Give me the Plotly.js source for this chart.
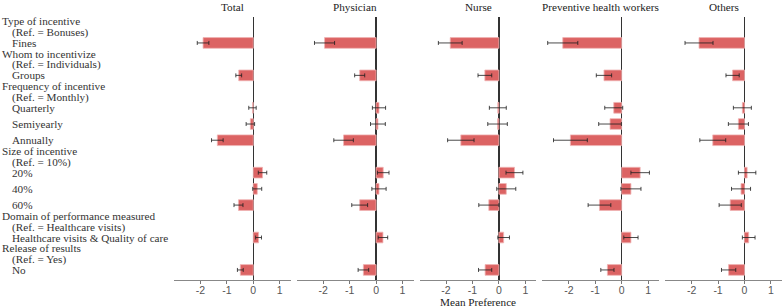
<!DOCTYPE html>
<html>
<head>
<meta charset="utf-8">
<script src="https://cdn.plot.ly/plotly-3.0.1.min.js"></script>
<style>html,body{margin:0;padding:0;background:#fff;}#chart{width:784px;height:307px;}</style>
</head>
<body>
<div id="chart"></div>
<script>
// ---- data ----
const groupNames = ['Type of incentive','Whom to incentivize','Frequency of incentive','Size of incentive','Domain of performance measured','Release of results'];
const groupRefs = ['(Ref. = Bonuses)','(Ref. = Individuals)','(Ref. = Monthly)','(Ref. = 10%)','(Ref. = Healthcare visits)','(Ref. = Yes)'];
const levelNames = ['Fines','Groups','Quarterly','Semiyearly','Annually','20%','40%','60%','Healthcare visits & Quality of care','No'];
const levelGroup = [0,1,2,2,2,3,3,3,4,5];
const panelNames = ['Total','Physician','Nurse','Preventive health workers','Others'];

const totalMean = [-1.90,-0.55,-0.03,-0.11,-1.36,0.35,0.15,-0.56,0.20,-0.49];
const totalErr  = [0.22,0.11,0.14,0.16,0.22,0.16,0.17,0.17,0.11,0.11];
const physicianMean = [-1.95,-0.62,0.11,0.07,-1.23,0.27,0.11,-0.62,0.26,-0.48];
const physicianErr  = [0.38,0.19,0.25,0.28,0.37,0.22,0.27,0.30,0.18,0.20];
const nurseMean = [-1.84,-0.53,-0.04,-0.05,-1.44,0.59,0.28,-0.38,0.18,-0.52];
const nurseErr  = [0.45,0.26,0.32,0.37,0.50,0.32,0.36,0.38,0.22,0.25];
const phwMean = [-2.23,-0.67,-0.30,-0.44,-1.94,0.70,0.35,-0.84,0.35,-0.54];
const phwErr  = [0.57,0.29,0.34,0.43,0.64,0.35,0.38,0.43,0.27,0.25];
const othersMean = [-1.72,-0.45,-0.08,-0.23,-1.20,0.10,-0.13,-0.54,0.16,-0.60];
const othersErr  = [0.53,0.25,0.34,0.38,0.49,0.33,0.36,0.42,0.24,0.27];

const xTicks = [-2,-1,0,1];
const xTitle = 'Mean Preference';

// ---- build ----
const means = [totalMean, physicianMean, nurseMean, phwMean, othersMean];
const errs = [totalErr, physicianErr, nurseErr, phwErr, othersErr];

// row positions: one empty slot between groups
const pos = [];
let p = 0;
levelGroup.forEach((g, i) => {
  if (i > 0) p += (g !== levelGroup[i-1]) ? 2 : 1;
  pos.push(p);
});

const serif = '"Liberation Serif", "Times New Roman", serif';
const sans = '"Liberation Sans", Arial, sans-serif';

const traces = [];
const layout = {
  width: 784, height: 307,
  margin: {l: 174, r: 2, t: 17, b: 27},
  paper_bgcolor: '#fff', plot_bgcolor: '#fff',
  showlegend: false,
  bargap: 0,
  yaxis: {range: [pos[pos.length-1] + 0.62, -1.6], showticklabels: false, showgrid: false,
          zeroline: false, showline: false, ticks: '', fixedrange: true},
  annotations: []
};

const n = panelNames.length;
const gap = 6 / 608;
const w = (1 - gap * (n - 1)) / n;

panelNames.forEach((name, k) => {
  const ax = k === 0 ? 'x' : 'x' + (k + 1);
  const axKey = k === 0 ? 'xaxis' : 'xaxis' + (k + 1);
  const d0 = k * (w + gap), d1 = Math.min(d0 + w, 1);
  layout[axKey] = {
    domain: [d0, d1], anchor: 'y', range: [-3, 1.42],
    tickvals: xTicks, ticktext: xTicks.map(String),
    ticks: 'outside', ticklen: 3, tickwidth: 1, tickcolor: '#777',
    ticklabelstandoff: -3,
    showline: true, linecolor: '#888', linewidth: 1.3,
    showgrid: false, zeroline: true, zerolinecolor: '#333', zerolinewidth: 1.3,
    tickfont: {family: sans, size: 10.5, color: '#555'}, fixedrange: true
  };
  traces.push({
    type: 'bar', orientation: 'h', x: means[k], y: pos, xaxis: ax, yaxis: 'y',
    width: 0.66,
    marker: {color: '#dc6363', line: {color: '#f0b4b4', width: 0.8}},
    error_x: {type: 'data', array: errs[k], visible: true, color: 'rgba(30,30,30,0.8)', thickness: 1, width: 2},
    hoverinfo: 'skip'
  });
  layout.annotations.push({
    text: name, xref: 'paper', yref: 'paper', x: (d0 + d1) / 2, y: 1,
    xanchor: 'center', yanchor: 'middle', yshift: 10, showarrow: false, borderpad: 0,
    font: {family: serif, size: 11.2, color: '#222'}
  });
});

// row labels
const labelFont = {family: serif, size: 11.2, color: '#333'};
levelNames.forEach((lev, i) => {
  const g = levelGroup[i];
  const first = i === 0 || levelGroup[i-1] !== g;
  layout.annotations.push({text: lev, xref: 'paper', yref: 'y', x: 0, y: pos[i], xanchor: 'left', yanchor: 'middle',
    xshift: -163, showarrow: false, borderpad: 0, font: labelFont});
  if (first) {
    layout.annotations.push({text: groupRefs[g], xref: 'paper', yref: 'y', x: 0, y: pos[i], xanchor: 'left', yanchor: 'middle',
      xshift: -163, yshift: 10.5, showarrow: false, borderpad: 0, font: labelFont});
    layout.annotations.push({text: groupNames[g], xref: 'paper', yref: 'y', x: 0, y: pos[i], xanchor: 'left', yanchor: 'middle',
      xshift: -173, yshift: 21.5, showarrow: false, borderpad: 0, font: labelFont});
  }
});

layout.annotations.push({
  text: xTitle, xref: 'paper', yref: 'paper', x: 0.5, y: 0, xanchor: 'center', yanchor: 'middle',
  yshift: -22, showarrow: false, borderpad: 0, font: {family: serif, size: 11.2, color: '#222'}
});

Plotly.newPlot('chart', traces, layout, {displayModeBar: false, staticPlot: true});
</script>
</body>
</html>
